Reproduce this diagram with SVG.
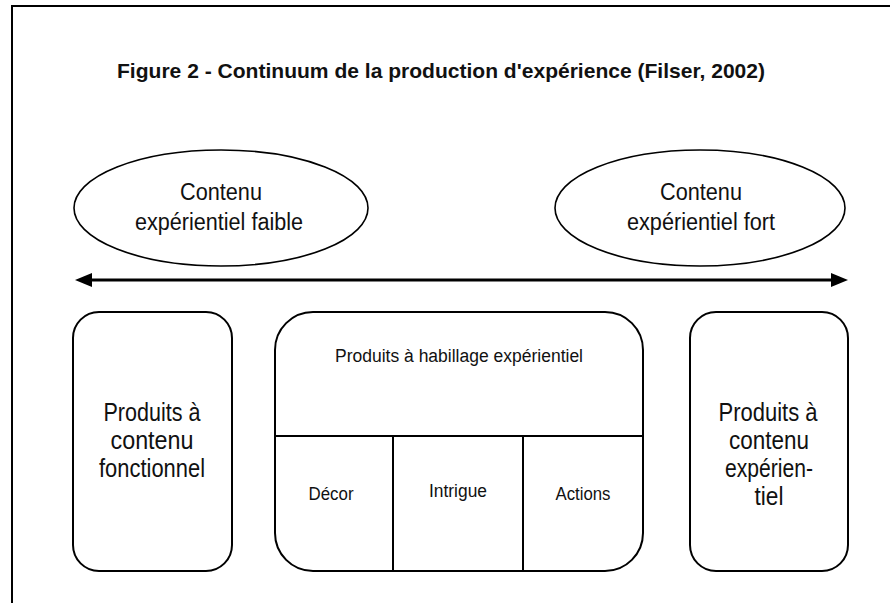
<svg xmlns="http://www.w3.org/2000/svg" width="890" height="603" viewBox="0 0 890 603">
<style>
  .shape{fill:#fff;stroke:#000;stroke-width:2}
  .ell{fill:#fff;stroke:#000;stroke-width:1.6}
  .div{fill:none;stroke:#000;stroke-width:2}
  text{font-family:"Liberation Sans","DejaVu Sans",sans-serif;fill:#111;text-anchor:middle}
  .title{font-size:21px;font-weight:bold}
  .big{font-size:23px}
  .box{font-size:26px}
  .small{font-size:18px}
</style>
<defs>
  <marker id="ah" viewBox="0 0 17 14" refX="4" refY="7" markerWidth="17" markerHeight="14" markerUnits="userSpaceOnUse" orient="auto-start-reverse">
    <path d="M0,0 L17,7 L0,14 z" fill="#000"/>
  </marker>
</defs>
<rect width="890" height="603" fill="#fff"/>
<path d="M12,603 V6 H890" fill="none" stroke="#000" stroke-width="2"/>
<text class="title" x="441" y="78" textLength="648" lengthAdjust="spacingAndGlyphs">Figure 2 - Continuum de la production d'expérience (Filser, 2002)</text>

<g id="ellipse-faible">
  <ellipse class="ell" cx="221" cy="208" rx="147" ry="58"/>
  <text class="big" x="221" y="200" textLength="82" lengthAdjust="spacingAndGlyphs">Contenu</text>
  <text class="big" x="219" y="230" textLength="168" lengthAdjust="spacingAndGlyphs">expérientiel faible</text>
</g>
<g id="ellipse-fort">
  <ellipse class="ell" cx="700" cy="208" rx="145" ry="58"/>
  <text class="big" x="701" y="200" textLength="82" lengthAdjust="spacingAndGlyphs">Contenu</text>
  <text class="big" x="701" y="230" textLength="148" lengthAdjust="spacingAndGlyphs">expérientiel fort</text>
</g>

<g id="connectors">
  <line x1="88" y1="280" x2="835" y2="280" stroke="#000" stroke-width="3" marker-start="url(#ah)" marker-end="url(#ah)"/>
</g>

<g id="box-fonctionnel">
  <rect class="shape" x="73" y="312" width="159" height="259" rx="26" ry="26"/>
  <text class="box" x="152" y="421" textLength="97" lengthAdjust="spacingAndGlyphs">Produits à</text>
  <text class="box" x="152" y="449" textLength="83" lengthAdjust="spacingAndGlyphs">contenu</text>
  <text class="box" x="152" y="477" textLength="106" lengthAdjust="spacingAndGlyphs">fonctionnel</text>
</g>

<g id="box-habillage">
  <rect class="shape" x="275" y="312" width="368" height="259" rx="38" ry="38"/>
  <path class="div" d="M275,436 H643 M393,436 V571 M523,436 V571"/>
  <text class="small" x="459" y="362" textLength="248" lengthAdjust="spacingAndGlyphs">Produits à habillage expérientiel</text>
  <text class="small" x="331" y="500" textLength="45" lengthAdjust="spacingAndGlyphs">Décor</text>
  <text class="small" x="458" y="497" textLength="58" lengthAdjust="spacingAndGlyphs">Intrigue</text>
  <text class="small" x="583" y="500" textLength="55" lengthAdjust="spacingAndGlyphs">Actions</text>
</g>

<g id="box-experientiel">
  <rect class="shape" x="690" y="312" width="158" height="259" rx="26" ry="26"/>
  <text class="box" x="768" y="421" textLength="99" lengthAdjust="spacingAndGlyphs">Produits à</text>
  <text class="box" x="769" y="449" textLength="80" lengthAdjust="spacingAndGlyphs">contenu</text>
  <text class="box" x="769" y="477" textLength="88" lengthAdjust="spacingAndGlyphs">expérien-</text>
  <text class="box" x="769" y="505" textLength="29" lengthAdjust="spacingAndGlyphs">tiel</text>
</g>
</svg>
